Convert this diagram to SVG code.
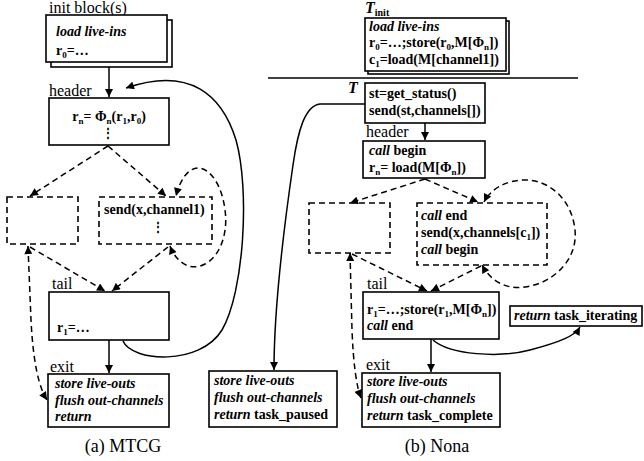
<svg xmlns="http://www.w3.org/2000/svg" width="644" height="461" viewBox="0 0 644 461">
<style>
text{font-family:"Liberation Serif","Times New Roman",serif}
.box{fill:#fff;stroke:#000;stroke-width:1.6}
.dbox{fill:none;stroke:#000;stroke-width:1.6;stroke-dasharray:6 4}
.t{font-size:14px;font-weight:bold}
.l{font-size:16px}
.cap{font-size:18px}
.i{font-style:italic}
.s{font-size:9px}
.dots{font-size:12px;font-weight:bold}
.e{fill:none;stroke:#000;stroke-width:1.5}
.d{fill:none;stroke:#000;stroke-width:1.5;stroke-dasharray:6 4}
</style>
<defs>
<marker id="ah" viewBox="0 0 10 10" refX="10" refY="5" markerWidth="9" markerHeight="8" markerUnits="userSpaceOnUse" orient="auto-start-reverse">
<path d="M0,0L10,5L0,10z" fill="#000"/>
</marker>
</defs>

<!-- ========== (a) MTCG ========== -->
<text class="l" x="49" y="13">init block(s)</text>
<g id="mtcg-init">
<rect class="box" x="51" y="20" width="121" height="47"/>
<rect class="box" x="46" y="15" width="121" height="47"/>
<text class="t i" x="56" y="36">load live-ins</text>
<text class="t" x="56" y="55">r<tspan class="s" dy="3">0</tspan><tspan dy="-3">=…</tspan></text>
</g>

<text class="l" x="49" y="96">header</text>
<g id="mtcg-header">
<rect class="box" x="49" y="98" width="120" height="47"/>
<text class="t" x="109" y="121" text-anchor="middle">r<tspan class="s" dy="3">n</tspan><tspan dy="-3">= Φ</tspan><tspan class="s" dy="3">n</tspan><tspan dy="-3">(r</tspan><tspan class="s" dy="3">1</tspan><tspan dy="-3">,r</tspan><tspan class="s" dy="3">0</tspan><tspan dy="-3">)</tspan></text>
<text class="dots" x="108" y="137" text-anchor="middle">⋮</text>
</g>

<g id="mtcg-left">
<rect class="dbox" x="7" y="197" width="71" height="47"/>
</g>

<g id="mtcg-send">
<rect class="dbox" x="99" y="197" width="113" height="47"/>
<text class="t" x="104" y="214">send(x,channel1)</text>
<text class="dots" x="158" y="231" text-anchor="middle">⋮</text>
</g>

<text class="l" x="52" y="289">tail</text>
<g id="mtcg-tail">
<rect class="box" x="49" y="292" width="120" height="48"/>
<text class="t" x="57" y="332">r<tspan class="s" dy="3">1</tspan><tspan dy="-3">=…</tspan></text>
</g>

<text class="l" x="50" y="372">exit</text>
<g id="mtcg-exit">
<rect class="box" x="48" y="374" width="121" height="53"/>
<text class="t i" x="55" y="388">store live-outs</text>
<text class="t i" x="55" y="405">flush out-channels</text>
<text class="t i" x="55" y="421">return</text>
</g>

<text class="cap" x="123" y="452" text-anchor="middle">(a) MTCG</text>

<!-- ========== (b) Nona ========== -->
<text class="t i" x="365" y="13" style="font-size:16px">T<tspan style="font-style:normal;font-size:10px" dy="3">init</tspan></text>
<g id="nona-init">
<rect class="box" x="368" y="21" width="141" height="53"/>
<rect class="box" x="365" y="18" width="141" height="53"/>
<text class="t i" x="369" y="31">load live-ins</text>
<text class="t" x="369" y="47">r<tspan class="s" dy="3">0</tspan><tspan dy="-3">=…;store(r</tspan><tspan class="s" dy="3">0</tspan><tspan dy="-3">,M[Φ</tspan><tspan class="s" dy="3">n</tspan><tspan dy="-3">])</tspan></text>
<text class="t" x="369" y="64">c<tspan class="s" dy="3">1</tspan><tspan dy="-3">=load(M[channel1])</tspan></text>
</g>

<line x1="268" y1="78" x2="578" y2="78" stroke="#000" stroke-width="1.5"/>

<text class="t i" x="348" y="93" style="font-size:16px">T</text>
<g id="nona-T">
<rect class="box" x="365" y="83" width="120" height="40"/>
<text class="t" x="369" y="98">st=get_status()</text>
<text class="t" x="369" y="115">send(st,channels[])</text>
</g>

<text class="l" x="366" y="137">header</text>
<g id="nona-header">
<rect class="box" x="363" y="141" width="122" height="37"/>
<text class="t" x="369" y="155"><tspan class="i">call</tspan> begin</text>
<text class="t" x="369" y="172">r<tspan class="s" dy="3">n</tspan><tspan dy="-3">= load(M[Φ</tspan><tspan class="s" dy="3">n</tspan><tspan dy="-3">])</tspan></text>
</g>

<g id="nona-left">
<rect class="dbox" x="309" y="203" width="81" height="50"/>
</g>

<g id="nona-send">
<rect class="dbox" x="417" y="203" width="130" height="62"/>
<text class="t" x="421" y="220"><tspan class="i">call</tspan> end</text>
<text class="t" x="421" y="237">send(x,channels[c<tspan class="s" dy="3">1</tspan><tspan dy="-3">])</tspan></text>
<text class="t" x="421" y="254"><tspan class="i">call</tspan> begin</text>
</g>

<text class="l" x="367" y="289">tail</text>
<g id="nona-tail">
<rect class="box" x="363" y="292" width="136" height="47"/>
<text class="t" x="367" y="314">r<tspan class="s" dy="3">1</tspan><tspan dy="-3">=…;store(r</tspan><tspan class="s" dy="3">1</tspan><tspan dy="-3">,M[Φ</tspan><tspan class="s" dy="3">n</tspan><tspan dy="-3">])</tspan></text>
<text class="t" x="367" y="330"><tspan class="i">call</tspan> end</text>
</g>

<g id="nona-iterating">
<rect class="box" x="510" y="306" width="132" height="20"/>
<text class="t" x="514" y="320"><tspan class="i">return</tspan> task_iterating</text>
</g>

<g id="nona-paused">
<rect class="box" x="209" y="371" width="128" height="56"/>
<text class="t i" x="214" y="385">store live-outs</text>
<text class="t i" x="214" y="402">flush out-channels</text>
<text class="t" x="214" y="419"><tspan class="i">return</tspan> task_paused</text>
</g>

<text class="l" x="366" y="370">exit</text>
<g id="nona-exit">
<rect class="box" x="362" y="373" width="138" height="54"/>
<text class="t i" x="367" y="386">store live-outs</text>
<text class="t i" x="367" y="403">flush out-channels</text>
<text class="t" x="367" y="420"><tspan class="i">return</tspan> task_complete</text>
</g>

<text class="cap" x="437" y="452" text-anchor="middle">(b) Nona</text>

<!-- ========== connectors ========== -->
<g id="connectors">
<!-- MTCG -->
<path class="e" d="M109,67 L109,97" marker-end="url(#ah)"/>
<path class="e" d="M123,341 C132,362 200,366 222,330 C244,292 250,190 236,140 C222,95 190,66 126,88" marker-end="url(#ah)"/>
<path class="d" d="M108,146 L30,196" marker-end="url(#ah)"/>
<path class="d" d="M108,146 L166,196" marker-end="url(#ah)"/>
<path class="d" d="M170,246 C176,262 190,272 205,264 C222,255 228,230 225,210 C222,185 210,168 198,168 C188,168 180,180 176,196" marker-start="url(#ah)" marker-end="url(#ah)"/>
<path class="d" d="M168,247 L112,291" marker-end="url(#ah)"/>
<path class="d" d="M30,247 L105,291" marker-end="url(#ah)"/>
<path class="d" d="M28,246 L31,320 Q34,380 47,400" marker-start="url(#ah)" marker-end="url(#ah)"/>
<path class="e" d="M109,340 L109,373" marker-end="url(#ah)"/>
<!-- Nona -->
<path class="e" d="M425,123 L425,140" marker-end="url(#ah)"/>
<path class="e" d="M365,104 L320,104 C305,106 298,130 293,165 C285,220 274,300 274,370" marker-end="url(#ah)"/>
<path class="d" d="M425,179 L350,203" marker-end="url(#ah)"/>
<path class="d" d="M425,179 L478,202" marker-end="url(#ah)"/>
<path class="d" d="M482,265 C490,280 505,290 525,287 C555,283 578,258 575,230 C572,200 550,180 525,180 C505,180 490,190 484,202" marker-start="url(#ah)" marker-end="url(#ah)"/>
<path class="d" d="M481,266 L431,291" marker-end="url(#ah)"/>
<path class="d" d="M352,254 L427,291" marker-end="url(#ah)"/>
<path class="d" d="M350,253 L352,330 Q354,380 361,398" marker-start="url(#ah)" marker-end="url(#ah)"/>
<path class="e" d="M431,339 L431,372" marker-end="url(#ah)"/>
<path class="e" d="M433,340 C450,355 500,358 530,350 C560,342 575,336 580,327" marker-end="url(#ah)"/>
</g>
</svg>
